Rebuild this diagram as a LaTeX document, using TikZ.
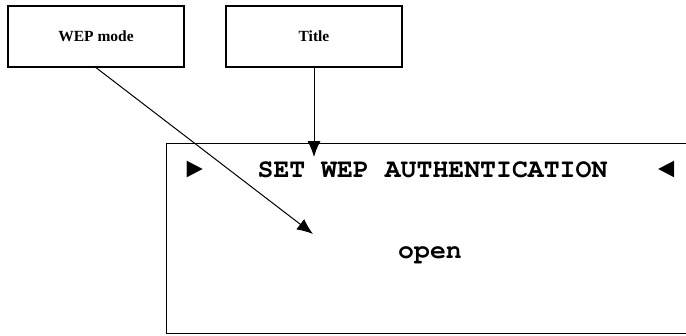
\documentclass[tikz,border=0pt]{standalone}
\usepackage{fontspec}
\setmainfont{Liberation Serif}
\setmonofont{Liberation Mono}
\usetikzlibrary{arrows.meta,positioning}

\tikzset{
  callout/.style={draw, line width=1.3pt, minimum width=176pt, minimum height=61pt,
    inner sep=0pt, font=\bfseries\fontsize{15.5}{18}\selectfont},
  pointer/.style={line width=1pt, -{Latex[length=16pt,width=13pt]}},
  lcdtext/.style={inner sep=0pt,
    font=\fontencoding{T1}\fontfamily{pcr}\bfseries\fontsize{26.5}{30}\selectfont},
  lcdmark/.style={inner sep=0pt, font=\ttfamily\bfseries\fontsize{28}{30}\selectfont},
}

\begin{document}
\begin{tikzpicture}[x=1pt,y=-1pt]
  \useasboundingbox (0,0) rectangle (686,335);
  \clip (0,0) rectangle (686,335);

  % display, cut off on the right
  \node[draw, line width=1.2pt, anchor=north west, inner sep=0pt,
    minimum width=540pt, minimum height=190pt] (lcd) at (166,143) {};

  \node[lcdtext, anchor=base] (heading) at (432.5,177) {SET WEP AUTHENTICATION};
  \node[lcdtext, anchor=base] (value) at (430,258) {open};
  \node[lcdmark] (leftmark) at (194.5,169.5) {►};
  \node[lcdmark] (rightmark) at (666.5,169.5) {◄};

  % callouts
  \node[callout] (wepmode) at (96,36.5) {WEP mode};
  \node[callout] (titlebox) at (314,36.5) {Title};

  \coordinate (weptip) at (313,234);
  \coordinate (titletip) at (314,157);

  \draw[pointer] (wepmode.south) -- (weptip);
  \draw[pointer] (titlebox.south) -- (titletip);
\end{tikzpicture}
\end{document}
